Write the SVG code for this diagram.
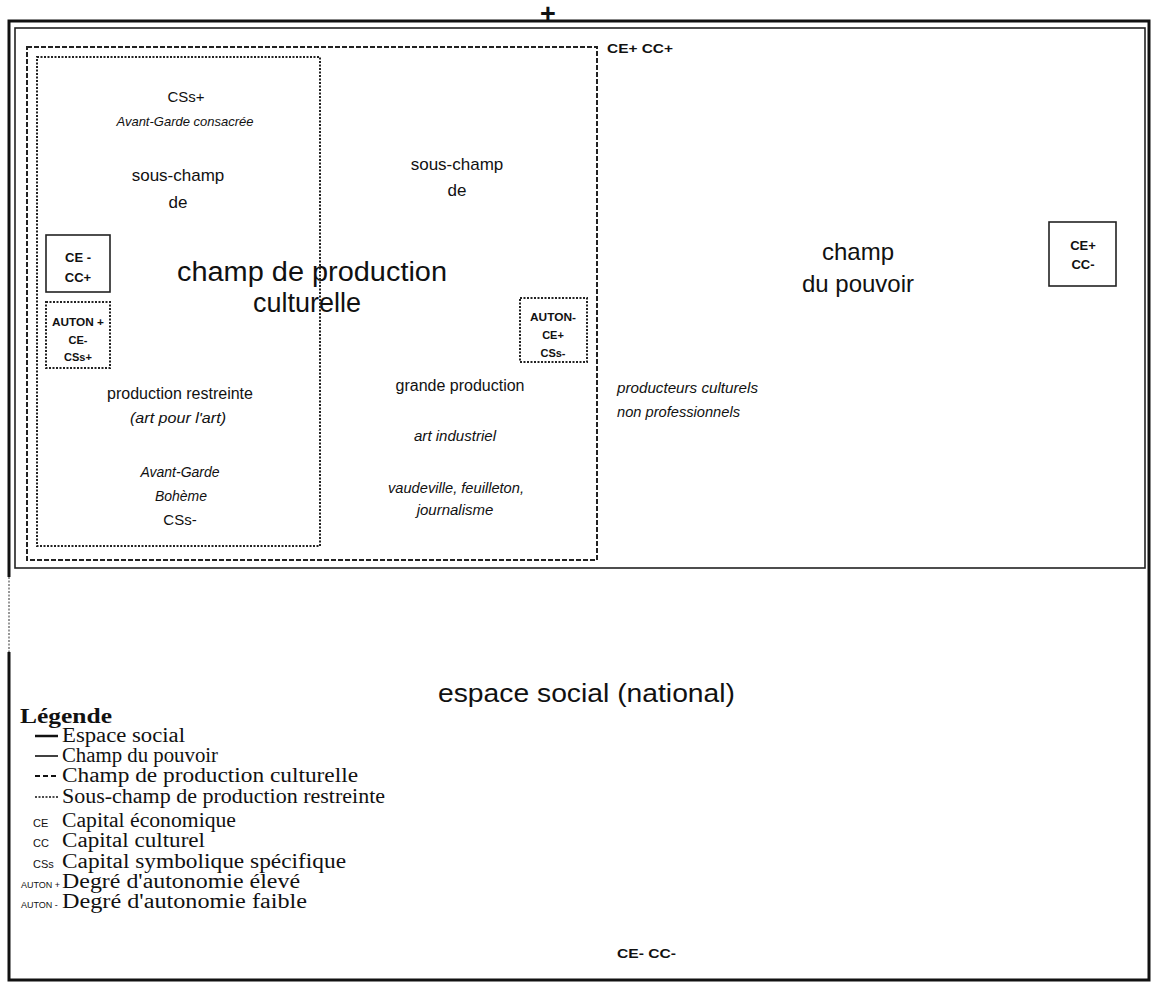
<svg xmlns="http://www.w3.org/2000/svg" width="1152" height="983" viewBox="0 0 1152 983">
<style>
.s{font-family:"Liberation Sans",Arial,sans-serif;fill:#111}
.i{font-style:italic}
.b{font-weight:bold}
.t{font-family:"Liberation Serif","Times New Roman",serif;fill:#111;font-size:20px}
.c{text-anchor:middle}
.dash{fill:none;stroke:#222;stroke-width:2;stroke-dasharray:5 2}
.dot{fill:none;stroke:#222;stroke-width:2;stroke-dasharray:2 1.5}
.sol{fill:none;stroke:#222;stroke-width:1.6}
</style>
<rect width="1152" height="983" fill="#fff"/>
<g id="espace-social">
<path d="M9,577 V21 H1149 V980 H9 V652" fill="none" stroke="#111" stroke-width="3"/>
<line x1="9" y1="577" x2="9" y2="652" stroke="#777" stroke-width="1.5" stroke-dasharray="2 1.5"/>
<text class="s" x="438" y="702" font-size="26" textLength="297" lengthAdjust="spacingAndGlyphs">espace social (national)</text>
<text class="s b" x="617" y="958" font-size="13" textLength="59" lengthAdjust="spacingAndGlyphs">CE- CC-</text>
<text class="s b c" x="548" y="23" font-size="27">+</text>
</g>
<g id="champ-pouvoir">
<rect class="sol" x="15" y="28" width="1130" height="540"/>
<text class="s b" x="607" y="53" font-size="13" textLength="66" lengthAdjust="spacingAndGlyphs">CE+ CC+</text>
<text class="s c" x="858" y="260" font-size="24">champ</text>
<text class="s c" x="858" y="292" font-size="24">du pouvoir</text>
</g>
<g id="box-ce-plus-cc-minus">
<rect class="sol" x="1049" y="222" width="67" height="64"/>
<text class="s b c" x="1083" y="250" font-size="13">CE+</text>
<text class="s b c" x="1083" y="269" font-size="13">CC-</text>
</g>
<g id="producteurs-non-pro">
<text class="s i" x="617" y="393" font-size="14" textLength="141" lengthAdjust="spacingAndGlyphs">producteurs culturels</text>
<text class="s i" x="617" y="417" font-size="14" textLength="123" lengthAdjust="spacingAndGlyphs">non professionnels</text>
</g>
<g id="champ-production-culturelle">
<rect class="dash" x="27" y="47" width="570" height="513"/>
<text class="s" x="177" y="281" font-size="27" textLength="270" lengthAdjust="spacingAndGlyphs">champ de production</text>
<text class="s c" x="307" y="312" font-size="27">culturelle</text>
</g>
<g id="sous-champ-restreinte">
<rect class="dot" x="37" y="57" width="283" height="489"/>
<text class="s c" x="186" y="102" font-size="15">CSs+</text>
<text class="s i c" x="185" y="126" font-size="13">Avant-Garde consacrée</text>
<text class="s c" x="178" y="181" font-size="17">sous-champ</text>
<text class="s c" x="178" y="208" font-size="17">de</text>
<text class="s c" x="180" y="399" font-size="16">production restreinte</text>
<text class="s i c" x="178" y="423" font-size="14" textLength="96" lengthAdjust="spacingAndGlyphs">(art pour l'art)</text>
<text class="s i c" x="180" y="477" font-size="14">Avant-Garde</text>
<text class="s i c" x="181" y="501" font-size="14">Bohème</text>
<text class="s c" x="180" y="525" font-size="15">CSs-</text>
</g>
<g id="box-ce-minus-cc-plus">
<rect class="sol" x="46" y="235" width="64" height="57"/>
<text class="s b c" x="78" y="262" font-size="13">CE -</text>
<text class="s b c" x="78" y="282" font-size="13">CC+</text>
</g>
<g id="box-auton-plus">
<rect class="dot" x="46" y="302" width="64" height="66"/>
<text class="s b c" x="78" y="326" font-size="11" textLength="52" lengthAdjust="spacingAndGlyphs">AUTON +</text>
<text class="s b c" x="78" y="344" font-size="11">CE-</text>
<text class="s b c" x="78" y="361" font-size="11">CSs+</text>
</g>
<g id="sous-champ-grande">
<text class="s c" x="457" y="170" font-size="17">sous-champ</text>
<text class="s c" x="457" y="196" font-size="17">de</text>
<text class="s c" x="460" y="391" font-size="16">grande production</text>
<text class="s i c" x="455" y="441" font-size="14" textLength="82" lengthAdjust="spacingAndGlyphs">art industriel</text>
<text class="s i c" x="456" y="493" font-size="14" textLength="136" lengthAdjust="spacingAndGlyphs">vaudeville, feuilleton,</text>
<text class="s i c" x="455" y="515" font-size="15">journalisme</text>
</g>
<g id="box-auton-minus">
<rect class="dot" x="520" y="298" width="67" height="64"/>
<text class="s b c" x="553" y="321" font-size="11" textLength="46" lengthAdjust="spacingAndGlyphs">AUTON-</text>
<text class="s b c" x="553" y="339" font-size="11">CE+</text>
<text class="s b c" x="553" y="357" font-size="11">CSs-</text>
</g>
<g id="legende">
<text class="t b" x="20" y="723" font-size="19" textLength="92" lengthAdjust="spacingAndGlyphs">Légende</text>
<line x1="35" y1="736" x2="58" y2="736" stroke="#111" stroke-width="2.5"/>
<text class="t" x="62" y="742" textLength="123" lengthAdjust="spacingAndGlyphs">Espace social</text>
<line x1="35" y1="756" x2="58" y2="756" stroke="#111" stroke-width="1.6"/>
<text class="t" x="62" y="762" textLength="156" lengthAdjust="spacingAndGlyphs">Champ du pouvoir</text>
<line x1="35" y1="776" x2="58" y2="776" stroke="#111" stroke-width="2" stroke-dasharray="5 3"/>
<text class="t" x="62" y="782" textLength="296" lengthAdjust="spacingAndGlyphs">Champ de production culturelle</text>
<line x1="35" y1="797" x2="58" y2="797" stroke="#111" stroke-width="1.5" stroke-dasharray="2 1.5"/>
<text class="t" x="62" y="803" textLength="323" lengthAdjust="spacingAndGlyphs">Sous-champ de production restreinte</text>
<text class="s" x="33" y="827" font-size="11">CE</text>
<text class="t" x="62" y="827" textLength="174" lengthAdjust="spacingAndGlyphs">Capital économique</text>
<text class="s" x="33" y="847" font-size="11">CC</text>
<text class="t" x="62" y="847" textLength="143" lengthAdjust="spacingAndGlyphs">Capital culturel</text>
<text class="s" x="33" y="868" font-size="11">CSs</text>
<text class="t" x="62" y="868" textLength="284" lengthAdjust="spacingAndGlyphs">Capital symbolique spécifique</text>
<text class="s" x="21" y="888" font-size="9">AUTON +</text>
<text class="t" x="62" y="888" textLength="238" lengthAdjust="spacingAndGlyphs">Degré d'autonomie élevé</text>
<text class="s" x="21" y="908" font-size="9">AUTON -</text>
<text class="t" x="62" y="908" textLength="245" lengthAdjust="spacingAndGlyphs">Degré d'autonomie faible</text>
</g>
</svg>
